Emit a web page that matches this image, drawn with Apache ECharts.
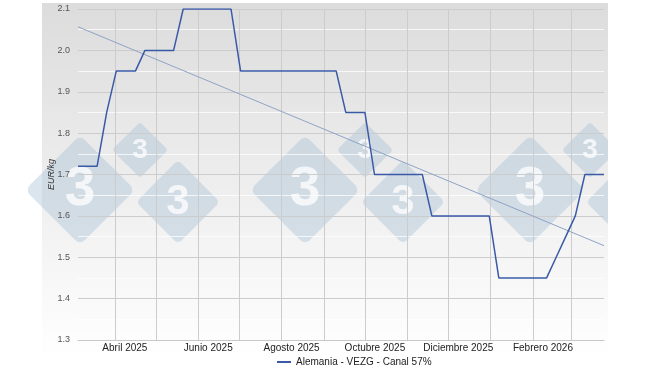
<!DOCTYPE html>
<html lang="es">
<head>
<meta charset="utf-8">
<title>Alemania - VEZG</title>
<style>
  html, body { margin: 0; padding: 0; background: #fff; }
  #main { width: 650px; height: 366px; }
</style>
</head>
<body>
<div id="main"></div>
<script src="https://cdn.jsdelivr.net/npm/echarts@6/dist/echarts.min.js"></script>
<script>
// precios semanales (miercoles), EUR/kg
var fechas = [
  '2025-03-05', '2025-03-12', '2025-03-19', '2025-03-26',
  '2025-04-02', '2025-04-09', '2025-04-16', '2025-04-23', '2025-04-30',
  '2025-05-07', '2025-05-14', '2025-05-21', '2025-05-28',
  '2025-06-04', '2025-06-11', '2025-06-18', '2025-06-25',
  '2025-07-02', '2025-07-09', '2025-07-16', '2025-07-23', '2025-07-30',
  '2025-08-06', '2025-08-13', '2025-08-20', '2025-08-27',
  '2025-09-03', '2025-09-10', '2025-09-17', '2025-09-24',
  '2025-10-01', '2025-10-08', '2025-10-15', '2025-10-22', '2025-10-29',
  '2025-11-05', '2025-11-12', '2025-11-19', '2025-11-26',
  '2025-12-03', '2025-12-10', '2025-12-17', '2025-12-24', '2025-12-31',
  '2026-01-07', '2026-01-14', '2026-01-21', '2026-01-28',
  '2026-02-04', '2026-02-11', '2026-02-18', '2026-02-25',
  '2026-03-04', '2026-03-11', '2026-03-18', '2026-03-25'
];
var precios = [
  1.72, 1.72, 1.72, 1.85,
  1.95, 1.95, 1.95, 2.00, 2.00,
  2.00, 2.00, 2.10, 2.10,
  2.10, 2.10, 2.10, 2.10,
  1.95, 1.95, 1.95, 1.95, 1.95,
  1.95, 1.95, 1.95, 1.95,
  1.95, 1.95, 1.85, 1.85,
  1.85, 1.70, 1.70, 1.70, 1.70,
  1.70, 1.70, 1.60, 1.60,
  1.60, 1.60, 1.60, 1.60, 1.60,
  1.45, 1.45, 1.45, 1.45,
  1.45, 1.45, 1.50, 1.55,
  1.60, 1.70, 1.70, 1.70
];
// linea de tendencia (inicio / fin)
var tendenciaFechas = ['2025-03-05', '2026-03-25'];
var tendenciaValores = [2.057, 1.528];

var meses = ['Enero', 'Febrero', 'Marzo', 'Abril', 'Mayo', 'Junio', 'Julio',
  'Agosto', 'Septiembre', 'Octubre', 'Noviembre', 'Diciembre'];
var serieNombre = 'Alemania - VEZG - Canal 57%';

var myChart = echarts.init(document.getElementById('main'));

// marca de agua "3" (decorativa)
function rombo(cx, cy, r) {
  return {
    type: 'group',
    silent: true,
    children: [{
      type: 'rect',
      x: cx, y: cy,
      rotation: Math.PI / 4,
      shape: { x: -r * 0.707, y: -r * 0.707, width: r * 1.414, height: r * 1.414, r: r * 0.12 },
      style: { fill: 'rgba(165,190,212,0.4)' }
    }, {
      type: 'text',
      x: cx, y: cy,
      style: {
        text: '3', fill: 'rgba(255,255,255,0.75)', font: 'bold ' + Math.round(r * 1.0) + 'px Arial',
        align: 'center', verticalAlign: 'middle'
      }
    }]
  };
}
var marcas = [];
[80, 305, 530].forEach(function (bx) {
  marcas.push(rombo(bx, 190, 55));
  marcas.push(rombo(bx + 60, 150, 28));
  marcas.push(rombo(bx + 98, 202, 42));
});

var option = {
  animation: false,
  textStyle: { fontFamily: 'Arial, "Liberation Sans", sans-serif' },
  graphic: [{
    type: 'rect',
    z: -10,
    silent: true,
    shape: { x: 42, y: 3, width: 566, height: 356 },
    style: {
      fill: new echarts.graphic.LinearGradient(0, 0, 0, 1, [
        { offset: 0, color: '#dcdcdc' },
        { offset: 1, color: '#ffffff' }
      ])
    }
  }, {
    type: 'group',
    z: 1,
    children: marcas
  }, {
    // recorte del marco a la derecha
    type: 'rect',
    z: 1,
    silent: true,
    shape: { x: 608, y: 0, width: 42, height: 366 },
    style: { fill: '#ffffff' }
  }],
  grid: { left: 78, right: 46, top: 9, bottom: 26, containLabel: false },
  legend: {
    data: [serieNombre],
    left: 272,
    top: 352,
    icon: 'rect',
    itemWidth: 14,
    itemHeight: 2,
    itemGap: 4,
    textStyle: { fontSize: 10, color: '#222' }
  },
  xAxis: {
    type: 'time',
    min: fechas[0],
    max: fechas[fechas.length - 1],
    splitNumber: 13,
    minInterval: 28 * 86400000,
    maxInterval: 31 * 86400000,
    axisLine: { lineStyle: { color: '#c8c8c8' } },
    axisTick: { show: false },
    splitLine: {
      show: true,
      showMinLine: false,
      showMaxLine: false,
      lineStyle: { color: '#cccccc', width: 1 }
    },
    axisLabel: {
      fontSize: 10,
      color: '#222',
      margin: 3,
      padding: [0, 0, 0, 20],
      hideOverlap: false,
      formatter: function (v) {
        var d = new Date(v);
        var m = d.getMonth();
        if (d.getDate() !== 1 || m % 2 === 0) return '';
        return meses[m] + ' ' + d.getFullYear();
      }
    }
  },
  yAxis: {
    type: 'value',
    min: 1.3,
    max: 2.1,
    interval: 0.1,
    name: 'EUR/kg',
    nameLocation: 'middle',
    nameGap: 22,
    nameMoveOverlap: false,
    nameTextStyle: { fontSize: 9, fontStyle: 'italic', color: '#333' },
    axisLine: { show: false },
    axisTick: { show: false },
    axisLabel: {
      fontSize: 9,
      color: '#555',
      margin: 8,
      formatter: function (v) { return v.toFixed(1); }
    },
    splitLine: { lineStyle: { color: '#cccccc' } },
    minorTick: { show: false, splitNumber: 2 },
    minorSplitLine: { show: true, lineStyle: { color: 'rgba(255,255,255,0.75)' } }
  },
  series: [{
    name: serieNombre,
    type: 'line',
    z: 3,
    showSymbol: false,
    symbol: 'none',
    data: fechas.map(function (f, i) { return [f, precios[i]]; }),
    lineStyle: { color: '#3a5aa8', width: 1.5 },
    itemStyle: { color: '#3a5aa8' }
  }, {
    name: 'Tendencia',
    type: 'line',
    z: 2,
    symbol: 'none',
    data: tendenciaFechas.map(function (f, i) { return [f, tendenciaValores[i]]; }),
    lineStyle: { color: '#8fa3c6', width: 1 },
    itemStyle: { color: '#8fa3c6' }
  }]
};
myChart.setOption(option);
</script>
</body>
</html>
